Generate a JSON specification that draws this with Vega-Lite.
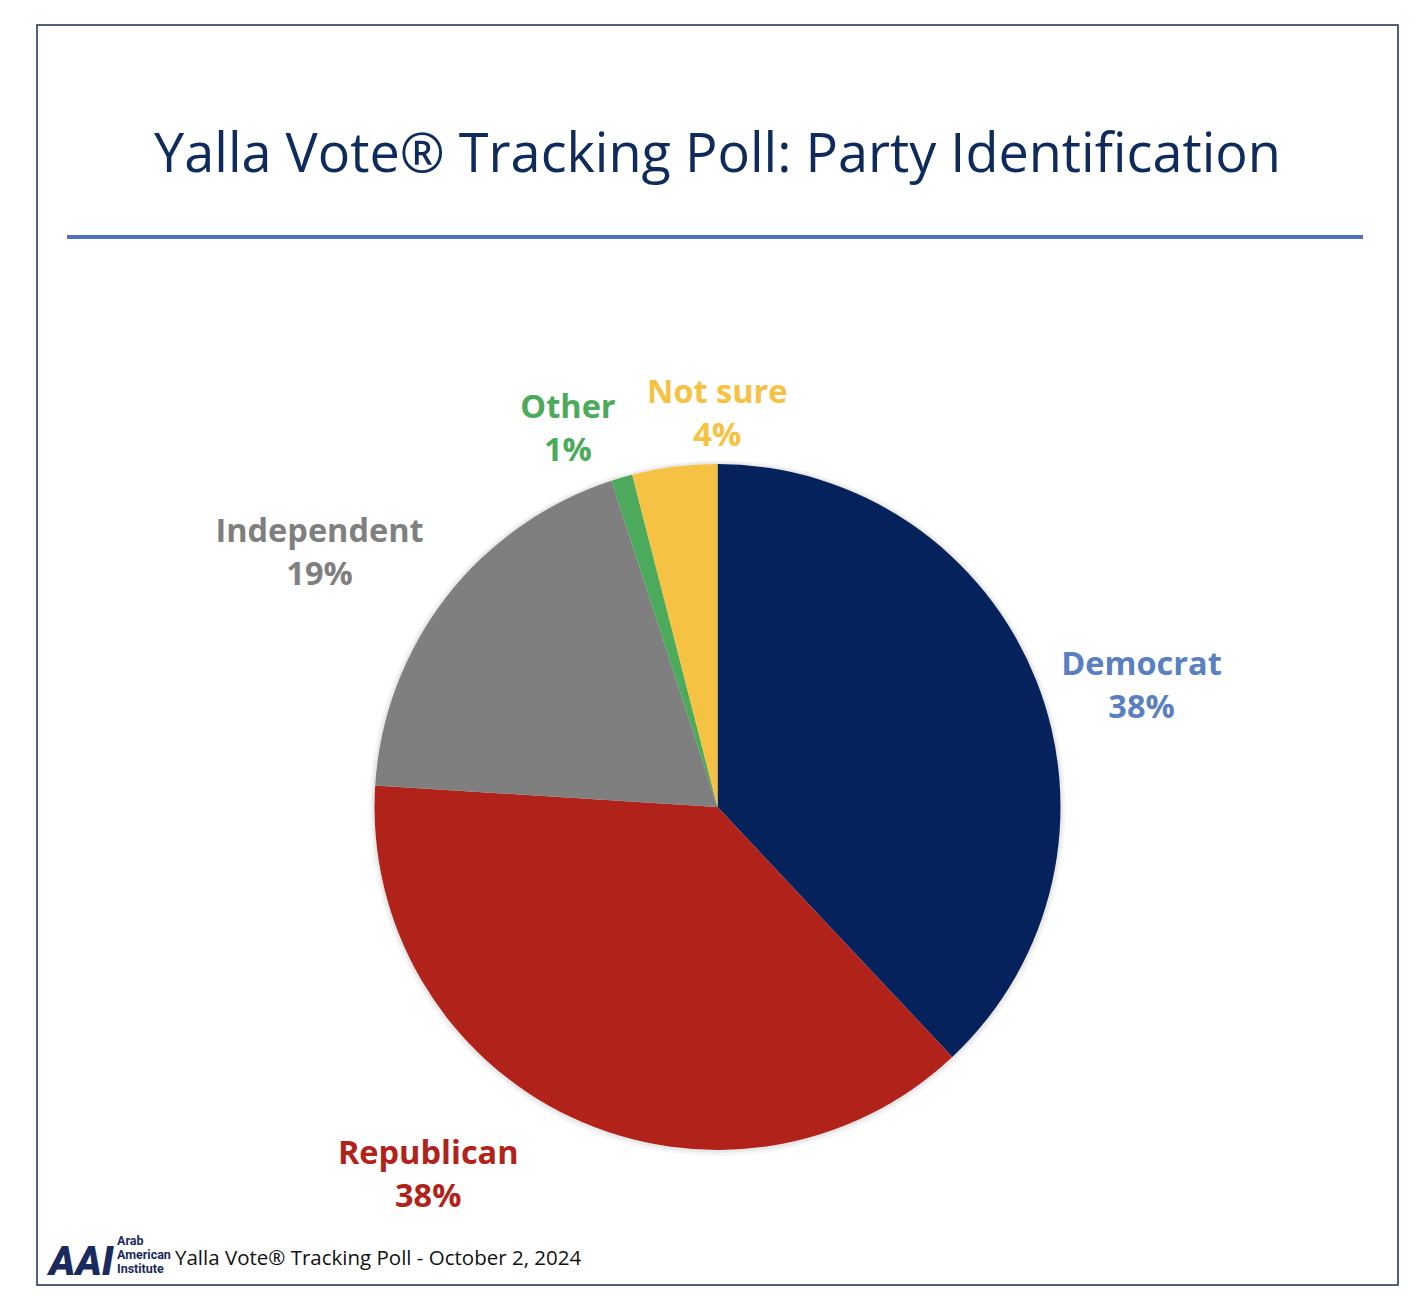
{
  "$schema": "https://vega.github.io/schema/vega-lite/v6.json",
  "description": "Yalla Vote tracking poll, party identification pie.",
  "width": 1361,
  "height": 1260,
  "autosize": "none",
  "padding": {"left": 37, "top": 25, "right": 30, "bottom": 25},
  "background": "white",
  "config": {
    "view": {"stroke": null},
    "font": "Open Sans"
  },
  "title": {
    "text": "Yalla Vote® Tracking Poll: Party Identification",
    "font": "Open Sans",
    "fontSize": 54,
    "fontWeight": 400,
    "color": "#0E2B5C",
    "anchor": "middle",
    "frame": "group",
    "baseline": "alphabetic",
    "offset": -150,
    "dy": 52
  },
  "datasets": {
    "parties": [
      {"party": "Democrat", "share": 38, "rank": 1},
      {"party": "Republican", "share": 38, "rank": 2},
      {"party": "Independent", "share": 19, "rank": 3},
      {"party": "Other", "share": 1, "rank": 4},
      {"party": "Not sure", "share": 4, "rank": 5}
    ]
  },
  "layer": [
    {
      "data": {"values": [{"frame": "border"}]},
      "mark": {"type": "rect", "x": 0, "x2": 1361, "y": 0, "y2": 1260, "fill": null, "stroke": "#1B2D50", "strokeWidth": 1.5},
      "encoding": {}
    },
    {
      "data": {"values": [{"frame": "rule"}]},
      "mark": {"type": "rect", "x": 30, "x2": 1326, "y": 210, "y2": 214, "fill": "#4F72BE"},
      "encoding": {}
    },
    {
      "data": {"name": "parties"},
      "mark": {"type": "arc", "radius": 348, "y": 783, "fill": "#000000", "opacity": 0.035},
      "encoding": {
        "theta": {"field": "share", "type": "quantitative", "stack": true},
        "order": {"field": "rank"}
      }
    },
    {
      "data": {"name": "parties"},
      "mark": {"type": "arc", "radius": 345.5, "y": 782.5, "fill": "#000000", "opacity": 0.05},
      "encoding": {
        "theta": {"field": "share", "type": "quantitative", "stack": true},
        "order": {"field": "rank"}
      }
    },
    {
      "data": {"name": "parties"},
      "mark": {"type": "arc", "radius": 343, "y": 782},
      "encoding": {
        "theta": {"field": "share", "type": "quantitative", "stack": true},
        "order": {"field": "rank"},
        "color": {
          "field": "party",
          "type": "nominal",
          "scale": {
            "domain": ["Democrat", "Republican", "Independent", "Other", "Not sure"],
            "range": ["#06225C", "#B1231A", "#7F7F7F", "#4BAA5B", "#F5C243"]
          },
          "legend": null
        }
      }
    },
    {
      "data": {"name": "parties"},
      "transform": [{"calculate": "datum.party + '\\n' + datum.share + '%'", "as": "label"}],
      "mark": {"type": "text", "radius": 441, "y": 782, "dx": 14, "dy": 20, "color": "#5A80BF", "fontSize": 32.5, "fontWeight": 700, "lineBreak": "\n", "lineHeight": 43, "baseline": "middle", "align": "center"},
      "encoding": {
        "theta": {"field": "share", "type": "quantitative", "stack": true},
        "order": {"field": "rank"},
        "text": {"condition": {"test": "datum.party === 'Democrat'", "field": "label"}, "value": ""}
      }
    },
    {
      "data": {"name": "parties"},
      "transform": [{"calculate": "datum.party + '\\n' + datum.share + '%'", "as": "label"}],
      "mark": {"type": "text", "radius": 468, "y": 782, "dx": -90, "dy": -76, "color": "#B1231A", "fontSize": 32.5, "fontWeight": 700, "lineBreak": "\n", "lineHeight": 43, "baseline": "middle", "align": "center"},
      "encoding": {
        "theta": {"field": "share", "type": "quantitative", "stack": true},
        "order": {"field": "rank"},
        "text": {"condition": {"test": "datum.party === 'Republican'", "field": "label"}, "value": ""}
      }
    },
    {
      "data": {"name": "parties"},
      "transform": [{"calculate": "datum.party + '\\n' + datum.share + '%'", "as": "label"}],
      "mark": {"type": "text", "radius": 472, "y": 782, "dx": -25, "dy": 14, "color": "#7F7F7F", "fontSize": 32.5, "fontWeight": 700, "lineBreak": "\n", "lineHeight": 43, "baseline": "middle", "align": "center"},
      "encoding": {
        "theta": {"field": "share", "type": "quantitative", "stack": true},
        "order": {"field": "rank"},
        "text": {"condition": {"test": "datum.party === 'Independent'", "field": "label"}, "value": ""}
      }
    },
    {
      "data": {"name": "parties"},
      "transform": [{"calculate": "datum.party + '\\n' + datum.share + '%'", "as": "label"}],
      "mark": {"type": "text", "radius": 407, "y": 782, "dx": -36, "dy": -8, "color": "#4BAA5B", "fontSize": 32.5, "fontWeight": 700, "lineBreak": "\n", "lineHeight": 43, "baseline": "middle", "align": "center"},
      "encoding": {
        "theta": {"field": "share", "type": "quantitative", "stack": true},
        "order": {"field": "rank"},
        "text": {"condition": {"test": "datum.party === 'Other'", "field": "label"}, "value": ""}
      }
    },
    {
      "data": {"name": "parties"},
      "transform": [{"calculate": "datum.party + '\\n' + datum.share + '%'", "as": "label"}],
      "mark": {"type": "text", "radius": 393, "y": 782, "dx": 49, "dy": -24, "color": "#F5C243", "fontSize": 32.5, "fontWeight": 700, "lineBreak": "\n", "lineHeight": 43, "baseline": "middle", "align": "center"},
      "encoding": {
        "theta": {"field": "share", "type": "quantitative", "stack": true},
        "order": {"field": "rank"},
        "text": {"condition": {"test": "datum.party === 'Not sure'", "field": "label"}, "value": ""}
      }
    },
    {
      "data": {"values": [{"logo": "AAI"}]},
      "mark": {"type": "text", "x": 12, "y": 1250, "align": "left", "baseline": "alphabetic", "font": "Roboto", "fontSize": 40, "fontWeight": 900, "fontStyle": "italic", "color": "#1B2A5E"},
      "encoding": {"text": {"field": "logo"}}
    },
    {
      "data": {"values": [{"org": "Arab\nAmerican\nInstitute"}]},
      "mark": {"type": "text", "x": 80, "y": 1220, "align": "left", "baseline": "alphabetic", "font": "Roboto", "fontSize": 12.5, "fontWeight": 700, "lineBreak": "\n", "lineHeight": 14, "color": "#1B2A5E"},
      "encoding": {"text": {"field": "org"}}
    },
    {
      "data": {"values": [{"note": "Yalla Vote® Tracking Poll - October 2, 2024"}]},
      "mark": {"type": "text", "x": 138, "y": 1240, "align": "left", "baseline": "alphabetic", "font": "Open Sans", "fontSize": 20.5, "color": "#111111"},
      "encoding": {"text": {"field": "note"}}
    }
  ]
}
